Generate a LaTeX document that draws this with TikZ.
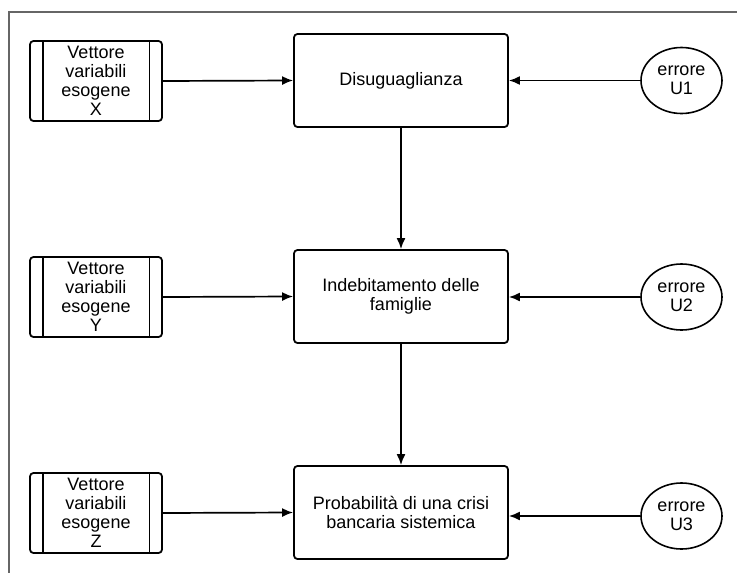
\documentclass[tikz,border=0pt]{standalone}
\usepackage{fontspec}
\setmainfont{Liberation Sans}
\usetikzlibrary{arrows.meta,shapes.geometric}
\begin{document}
\begin{tikzpicture}[x=1pt,y=-1pt,
  every node/.style={font=\fontsize{18}{18.8}\selectfont, align=center, inner sep=0pt},
  mainbox/.style={draw, line width=1.8pt, rounded corners=3.5pt, minimum width=214pt, minimum height=93pt},
  vecbox/.style={draw, line width=1.8pt, rounded corners=3.5pt, minimum width=132pt, minimum height=80pt},
  errnode/.style={draw, ellipse, line width=1.6pt, minimum width=81pt, minimum height=66pt},
  link/.style={line width=1.7pt, -{Latex[length=11pt,width=9pt]}},
  frameline/.style={draw=black!60, line width=1.6pt}
]
\useasboundingbox (0,0) rectangle (737,573);
% outer frame
\draw[frameline] (9,573) -- (9,12) -- (737,12);

% central chain
\node[mainbox] (dis) at (401,80.5) {Disuguaglianza};
\node[mainbox] (ind) at (401,296.5) {Indebitamento delle\\famiglie};
\node[mainbox] (pro) at (401,512.5) {Probabilità di una crisi\\bancaria sistemica};

% exogenous vectors
\node[vecbox] (vx) at (96,81) {Vettore\\variabili\\esogene\\X};
\node[vecbox] (vy) at (96,297) {Vettore\\variabili\\esogene\\Y};
\node[vecbox] (vz) at (96,513) {Vettore\\variabili\\esogene\\Z};
\foreach \v in {vx,vy,vz}{
  \draw[line width=1.8pt] ([xshift=13.5pt]\v.north west) -- ([xshift=13.5pt]\v.south west);
  \draw[line width=1.8pt] ([xshift=-13.5pt]\v.north east) -- ([xshift=-13.5pt]\v.south east);
}

% error terms
\node[errnode] (u1) at (681.5,80.5) {errore\\U1};
\node[errnode] (u2) at (681.5,297) {errore\\U2};
\node[errnode] (u3) at (681.5,516) {errore\\U3};

% connectors
\draw[link] (vx.east) -- (dis.west);
\draw[link] (vy.east) -- (ind.west);
\draw[link] (vz.east) -- (pro.west);
\draw[link] (u1.west) -- (u1.west -| dis.east);
\draw[link] (u2.west) -- (u2.west -| ind.east);
\draw[link] (u3.west) -- (u3.west -| pro.east);
\draw[link] (dis.south) -- (ind.north);
\draw[link] (ind.south) -- (pro.north);
\end{tikzpicture}
\end{document}
